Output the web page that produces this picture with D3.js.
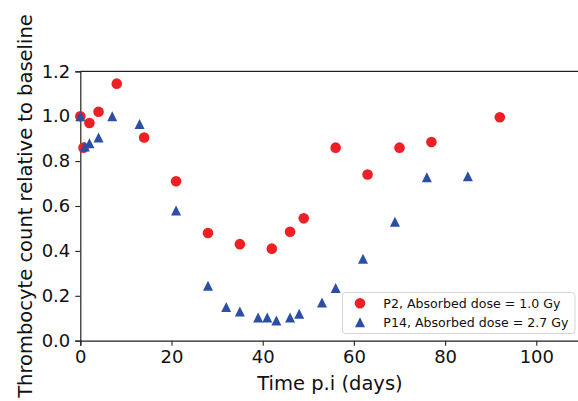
<!DOCTYPE html>
<html>
<head>
<meta charset="utf-8">
<script src="https://cdn.jsdelivr.net/npm/d3@7"></script>
<style>
	body { margin: 0; background: #fff; }
	text { font-family: "DejaVu Sans", sans-serif; fill: #111; }
</style>
</head>
<body>
<svg id="chart" width="578" height="401"></svg>
<script>
// P2 (1.0 Gy), red circles
var p2Days = [0, 0.7, 2, 4, 8, 14, 21, 28, 35, 42, 46, 49, 56, 63, 70, 77, 92];
var p2Values = [1.0, 0.86, 0.97, 1.02, 1.145, 0.905, 0.71, 0.48, 0.43, 0.41, 0.485, 0.545, 0.86, 0.74, 0.86, 0.885, 0.995];

// P14 (2.7 Gy), blue triangles
var p14Days = [0, 1, 2, 4, 7, 13, 21, 28, 32, 35, 39, 41, 43, 46, 48, 53, 56, 62, 69, 76, 85];
var p14Values = [1.0, 0.865, 0.88, 0.905, 1.0, 0.965, 0.58, 0.245, 0.15, 0.13, 0.103, 0.103, 0.09, 0.103, 0.12, 0.17, 0.235, 0.365, 0.53, 0.728, 0.732];

var xTicks = [0, 20, 40, 60, 80, 100];
var yTicks = [0.0, 0.2, 0.4, 0.6, 0.8, 1.0, 1.2];
var legendLabels = ["P2, Absorbed dose = 1.0 Gy", "P14, Absorbed dose = 2.7 Gy"];

var red = "#ee1f25", blue = "#2c4ea3";

var svg = d3.select("#chart");
var x = d3.scaleLinear().domain([0, 110]).range([80.3, 581.9]);
var y = d3.scaleLinear().domain([0, 1.2]).range([340.7, 71.3]);

// axes
var xAxis = svg.append("g")
	.attr("transform", "translate(0," + y(0) + ")")
	.call(d3.axisBottom(x).tickValues(xTicks).tickFormat(d3.format("d")).tickSize(5).tickPadding(5));
var yAxis = svg.append("g")
	.attr("transform", "translate(" + x(0) + ",0)")
	.call(d3.axisLeft(y).tickValues(yTicks).tickFormat(d3.format(".1f")).tickSize(5).tickPadding(5));

[xAxis, yAxis].forEach(function (g) {
	g.selectAll("text").style("font-size", "18px").attr("fill", "#111");
	g.selectAll("line").attr("stroke", "#222").attr("stroke-width", 1.1);
	g.select(".domain").attr("stroke", "#222").attr("stroke-width", 1.2);
});

// top spine
svg.append("line")
	.attr("x1", x(0)).attr("x2", x(110))
	.attr("y1", y(1.2)).attr("y2", y(1.2))
	.attr("stroke", "#222").attr("stroke-width", 1.2);

// labels
svg.append("text")
	.attr("x", 330).attr("y", 390)
	.attr("text-anchor", "middle")
	.style("font-size", "19.5px")
	.text("Time p.i (days)");

svg.append("text")
	.attr("transform", "translate(32," + ((y(0) + y(1.2)) / 2) + ") rotate(-90)")
	.attr("text-anchor", "middle")
	.style("font-size", "19.5px")
	.text("Thrombocyte count relative to baseline");

function trianglePath(cx, cy, s) {
	var h = s / 2;
	return "M" + cx + "," + (cy - h) + "L" + (cx - h) + "," + (cy + h) + "L" + (cx + h) + "," + (cy + h) + "Z";
}

// markers
var plot = svg.append("g");
plot.selectAll("circle.p2")
	.data(d3.zip(p2Days, p2Values))
	.enter().append("circle")
	.attr("class", "p2")
	.attr("cx", function (d) { return x(d[0]); })
	.attr("cy", function (d) { return y(d[1]); })
	.attr("r", 5.3)
	.attr("fill", red);

plot.selectAll("path.p14")
	.data(d3.zip(p14Days, p14Values))
	.enter().append("path")
	.attr("class", "p14")
	.attr("d", function (d) { return trianglePath(x(d[0]), y(d[1]), 10); })
	.attr("fill", blue);

// legend
var leg = svg.append("g");
leg.append("rect")
	.attr("x", 342.5).attr("y", 292.5)
	.attr("width", 232.5).attr("height", 41)
	.attr("rx", 3).attr("ry", 3)
	.attr("fill", "#fff").attr("fill-opacity", 0.8)
	.attr("stroke", "#d5d5d5").attr("stroke-width", 1);

leg.append("circle").attr("cx", 360).attr("cy", 303.3).attr("r", 5.3).attr("fill", red);
leg.append("path").attr("d", trianglePath(360, 322.3, 10)).attr("fill", blue);

leg.selectAll("text.lab")
	.data(legendLabels)
	.enter().append("text")
	.attr("class", "lab")
	.attr("x", 383.3)
	.attr("y", function (d, i) { return 308 + i * 19; })
	.style("font-size", "12.6px")
	.text(function (d) { return d; });
</script>
</body>
</html>
